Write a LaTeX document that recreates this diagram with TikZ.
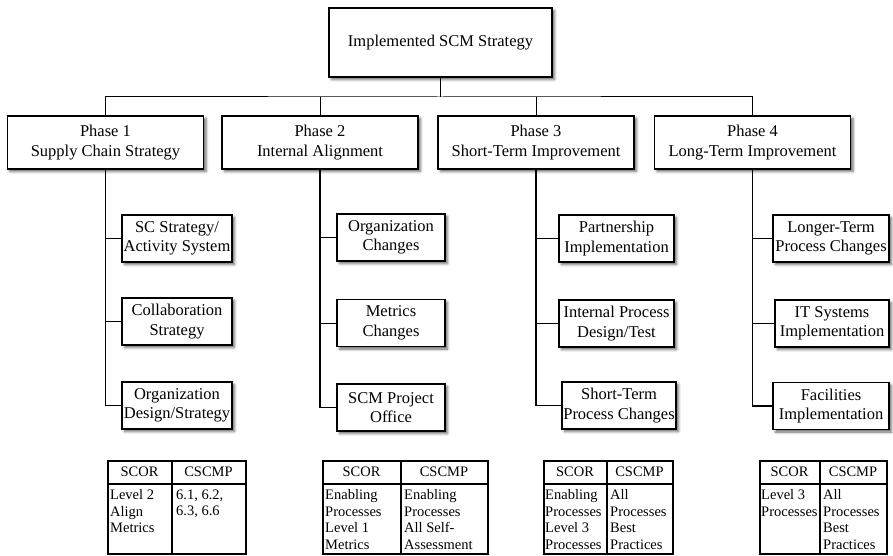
\documentclass[tikz,border=0pt]{standalone}
\usepackage{fontspec}
\setmainfont{Liberation Serif}
\usetikzlibrary{positioning, shadows.blur}

\begin{document}
\begin{tikzpicture}[x=1pt, y=-1pt, font=\fontsize{16.5}{19.5}\selectfont,
      box/.style={draw, line width=1.1pt, fill=white, align=center,
                  inner xsep=1pt, inner ysep=2pt,
                  blur shadow={shadow xshift=2.5pt, shadow yshift=-2.5pt,
                               shadow blur radius=2.5pt, shadow opacity=60}},
      goalbox/.style={box, minimum width=223pt, minimum height=69pt},
      phasebox/.style={box, minimum width=196pt, minimum height=53pt},
      taskbox/.style={box, minimum height=47pt},
      link/.style={line width=1pt},
      trunk/.style={line width=1.6pt},
      tblbox/.style={draw, line width=2pt, anchor=north west,
                     minimum height=93pt, inner sep=0pt},
      tblrule/.style={line width=2pt},
      tblhead/.style={font=\fontsize{14.5}{16.5}\selectfont},
      tblcell/.style={font=\fontsize{14.5}{16.5}\selectfont, align=left,
                      anchor=north west, inner sep=0pt}]
  \useasboundingbox (0,0) rectangle (893,556);
  % Strategy
  \node[goalbox] (goal) at (440.5,42.5) {Implemented SCM Strategy};
  % Phases
  \node[phasebox] (ph1) at (105.5,142.5) {Phase 1\\Supply Chain Strategy};
  \node[phasebox] (ph2) at (320,142.5) {Phase 2\\Internal Alignment};
  \node[phasebox] (ph3) at (536,142.5) {Phase 3\\Short-Term Improvement};
  \node[phasebox] (ph4) at (752.5,142.5) {Phase 4\\Long-Term Improvement};
  \coordinate (bus) at (440.5,97);
  \draw[trunk] (goal) -- (bus);
  \draw[link] (ph1.north) |- (bus) -| (ph4.north);
  \draw[link] (ph2.north) -- (ph2.north |- bus);
  \draw[link] (ph3.north) -- (ph3.north |- bus);
  % Phase 1 tasks
  \node[taskbox, minimum width=110pt] (p1a) at (177,238.5) {SC Strategy/\\Activity System};
  \node[taskbox, minimum width=110pt] (p1b) at (177,321.5) {Collaboration\\Strategy};
  \node[taskbox, minimum width=110pt] (p1c) at (177,405.5) {Organization\\Design/Strategy};
  \draw[trunk] (ph1.south) |- (p1c.west);
  \draw[link] (p1a.west) -- (p1a.west -| ph1.south);
  \draw[link] (p1b.west) -- (p1b.west -| ph1.south);
  % Phase 2 tasks
  \node[taskbox, minimum width=108pt] (p2a) at (391,237.5) {Organization\\Changes};
  \node[taskbox, minimum width=108pt] (p2b) at (391,323) {Metrics\\Changes};
  \node[taskbox, minimum width=108pt] (p2c) at (391,407.5) {SCM Project\\Office};
  \draw[trunk] (ph2.south) |- (p2c.west);
  \draw[link] (p2a.west) -- (p2a.west -| ph2.south);
  \draw[link] (p2b.west) -- (p2b.west -| ph2.south);
  % Phase 3 tasks
  \node[taskbox, minimum width=115pt] (p3a) at (616.5,238.5) {Partnership\\Implementation};
  \node[taskbox, minimum width=115pt] (p3b) at (616.5,323.5) {Internal Process\\Design/Test};
  \node[taskbox, minimum width=114pt] (p3c) at (619,405.5) {Short-Term\\Process Changes};
  \draw[trunk] (ph3.south) |- (p3c.west);
  \draw[link] (p3a.west) -- (p3a.west -| ph3.south);
  \draw[link] (p3b.west) -- (p3b.west -| ph3.south);
  % Phase 4 tasks
  \node[taskbox, minimum width=116pt] (p4a) at (831,238.5) {Longer-Term\\Process Changes};
  \node[taskbox, minimum width=114pt] (p4b) at (832,323.5) {IT Systems\\Implementation};
  \node[taskbox, minimum width=116pt] (p4c) at (831,406) {Facilities\\Implementation};
  \draw[trunk] (ph4.south) |- (p4c.west);
  \draw[link] (p4a.west) -- (p4a.west -| ph4.south);
  \draw[link] (p4b.west) -- (p4b.west -| ph4.south);
  % SCOR / CSCMP tables
  \node[tblbox, minimum width=138pt] (tb1) at (107,460) {};
  \draw[tblrule] (107,484) -- (245,484) (172,460) -- (172,553);
  \node[tblhead] (tb1l) at (139.5,471.5) {SCOR};
  \node[tblhead] (tb1r) at (208.5,471.5) {CSCMP};
  \node[tblcell] (tb1a) at (110,489.5) {Level 2\\Align\\Metrics};
  \node[tblcell] (tb1b) at (176,489.5) {6.1, 6.2,\\6.3, 6.6};
  \node[tblbox, minimum width=165pt] (tb2) at (322,460) {};
  \draw[tblrule] (322,484) -- (487,484) (401,460) -- (401,553);
  \node[tblhead] (tb2l) at (361.5,471.5) {SCOR};
  \node[tblhead] (tb2r) at (444,471.5) {CSCMP};
  \node[tblcell] (tb2a) at (325,489.5) {Enabling\\Processes\\Level 1\\Metrics};
  \node[tblcell] (tb2b) at (404,489.5) {Enabling\\Processes\\All Self-\\Assessment};
  \node[tblbox, minimum width=129pt] (tb3) at (543,460) {};
  \draw[tblrule] (543,484) -- (672,484) (607,460) -- (607,553);
  \node[tblhead] (tb3l) at (575,471.5) {SCOR};
  \node[tblhead] (tb3r) at (639.5,471.5) {CSCMP};
  \node[tblcell] (tb3a) at (545,489.5) {Enabling\\Processes\\Level 3\\Processes};
  \node[tblcell] (tb3b) at (610,489.5) {All\\Processes\\Best\\Practices};
  \node[tblbox, minimum width=127pt] (tb4) at (759,460) {};
  \draw[tblrule] (759,484) -- (886,484) (820,460) -- (820,553);
  \node[tblhead] (tb4l) at (789.5,471.5) {SCOR};
  \node[tblhead] (tb4r) at (853,471.5) {CSCMP};
  \node[tblcell] (tb4a) at (761,489.5) {Level 3\\Processes};
  \node[tblcell] (tb4b) at (823,489.5) {All\\Processes\\Best\\Practices};
\end{tikzpicture}
\end{document}
